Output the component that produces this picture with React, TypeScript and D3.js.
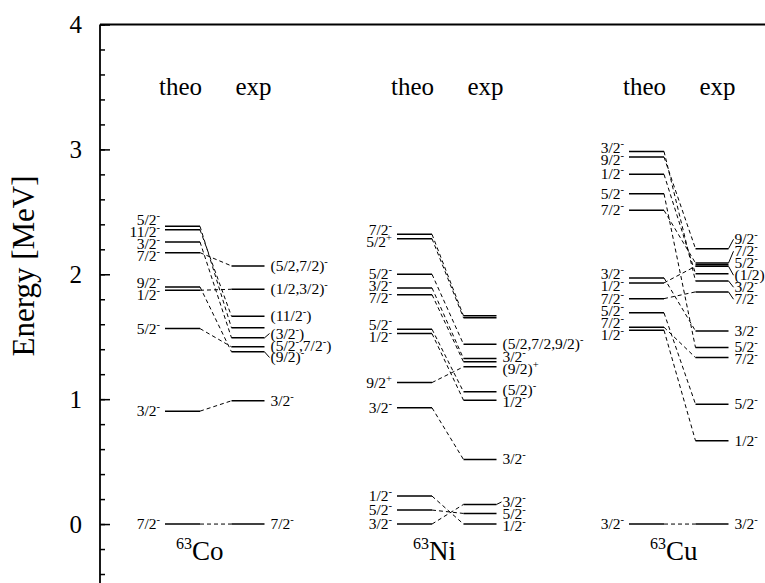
import * as d3 from "d3";
import { useEffect, useRef } from "react";

const W = 765;
const H = 583;
const FONT = "Liberation Serif, DejaVu Serif, serif";

// energies in MeV with J^pi labels ("^" marks the next char as superscript)
const nuclei = ["Co", "Ni", "Cu"];

const coTheo: [number, string][] = [
  [0, "7/2^-"], [0.904, "3/2^-"], [1.565, "5/2^-"], [1.872, "1/2^-"], [1.899, "9/2^-"],
  [2.173, "7/2^-"], [2.259, "3/2^-"], [2.357, "11/2^-"], [2.384, "5/2^-"],
];
const coExp: [number, string][] = [
  [0, "7/2^-"], [0.987, "3/2^-"], [1.379, "(9/2)^-"], [1.419, "(5/2^-,7/2^-)"], [1.491, "(3/2^-)"],
  [1.571, ""], [1.664, "(11/2^-)"], [1.88, "(1/2,3/2)^-"], [2.067, "(5/2,7/2)^-"],
];
const coLinks: [number, number][] = [[0, 0], [1, 1], [2, 3], [3, 7], [4, 2], [5, 8], [6, 4], [7, 6], [8, 5]];

const niTheo: [number, string][] = [
  [0, "3/2^-"], [0.112, "5/2^-"], [0.224, "1/2^-"], [0.931, "3/2^-"], [1.133, "9/2^+"], [1.525, "1/2^-"],
  [1.56, "5/2^-"], [1.837, "7/2^-"], [1.891, "3/2^-"], [2.0, "5/2^-"], [2.285, "5/2^+"], [2.32, "7/2^-"],
];
const niExp: [number, string][] = [
  [0, "1/2^-"], [0.085, "5/2^-"], [0.157, "3/2^-"], [0.517, "3/2^-"], [0.992, "1/2^-"], [1.059, "(5/2)^-"],
  [1.259, "(9/2)^+"], [1.299, ""], [1.325, "3/2^-"], [1.44, "(5/2,7/2,9/2)^-"], [1.651, ""], [1.667, ""],
];
const niLinks: [number, number][] = [
  [0, 2], [1, 1], [2, 0], [3, 3], [4, 6], [5, 4], [6, 5], [7, 7], [8, 8], [9, 9], [10, 10], [11, 11],
];

const cuTheo: [number, string][] = [
  [0, "3/2^-"], [1.552, "1/2^-"], [1.576, "7/2^-"], [1.691, "5/2^-"], [1.805, "7/2^-"], [1.931, "1/2^-"],
  [1.971, "3/2^-"], [2.512, "7/2^-"], [2.645, "5/2^-"], [2.8, "1/2^-"], [2.939, "9/2^-"], [2.984, "3/2^-"],
];
const cuExp: [number, string][] = [
  [0, "3/2^-"], [0.667, "1/2^-"], [0.96, "5/2^-"], [1.333, "7/2^-"], [1.413, "5/2^-"], [1.546, "3/2^-"],
  [1.859, "7/2^-"], [1.947, "3/2^-"], [2.005, ""], [2.064, "(1/2)"], [2.077, "5/2^-"], [2.09, "7/2^-"],
  [2.205, "9/2^-"],
];
const cuLinks: [number, number][] = [
  [0, 0], [1, 1], [2, 3], [3, 2], [4, 6], [5, 9], [6, 5], [7, 11], [8, 4], [9, 8], [10, 12], [11, 7],
];

const sets = [
  { theo: coTheo, exp: coExp, links: coLinks },
  { theo: niTheo, exp: niExp, links: niLinks },
  { theo: cuTheo, exp: cuExp, links: cuLinks },
];

const majorTicks = [0, 1, 2, 3, 4];
const minorTicks = d3.range(-0.4, 4.01, 0.2).map(v => +v.toFixed(1));

const y = d3.scaleLinear().domain([-0.48, 4]).range([584, 24.5]);
const xTheo = d3.scaleLinear().domain([0, 2]).range([165, 629]);
const theoLen = 35;
const expGap = 66.5;
const expLen = 33;
const labelGap = 12;
const LBL = 15.5;

// push overlapping labels apart around their cluster centre
function spread(ys: number[], gap: number) {
  const out = ys.slice();
  for (let it = 0; it < 300; it++) {
    let moved = false;
    for (let i = 1; i < out.length; i++) {
      const d = out[i] - out[i - 1];
      if (d < gap - 0.01) {
        const s = (gap - d) / 2;
        out[i - 1] -= s;
        out[i] += s;
        moved = true;
      }
    }
    if (!moved) break;
  }
  return out;
}

function layoutLabels(levels: [number, string][]) {
  const items = levels
    .map(([e, s]) => ({ yl: y(e), s }))
    .filter(d => d.s !== "")
    .sort((a, b) => a.yl - b.yl);
  const ys = spread(items.map(d => d.yl), labelGap);
  return items.map((d, i) => ({ ...d, yt: ys[i] }));
}

function JLabel({ x, yy, s, anchor }: { x: number; yy: number; s: string; anchor: string }) {
  const segs: { t: string; sup: boolean }[] = [];
  for (let i = 0; i < s.length; i++) {
    if (s[i] === "^") {
      segs.push({ t: s[i + 1], sup: true });
      i++;
    } else if (segs.length && !segs[segs.length - 1].sup) {
      segs[segs.length - 1].t += s[i];
    } else {
      segs.push({ t: s[i], sup: false });
    }
  }
  let up = false;
  return (
    <text x={x} y={yy + 5} textAnchor={anchor} fontSize={LBL} fontFamily={FONT}>
      {segs.map((g, i) => {
        const dy = g.sup && !up ? -6 : !g.sup && up ? 6 : 0;
        up = g.sup;
        return (
          <tspan key={i} dy={dy || undefined} fontSize={g.sup ? 10.5 : LBL}>
            {g.t}
          </tspan>
        );
      })}
    </text>
  );
}

const isoOffset = [11, 16, 21];

export default function App() {
  const axisRef = useRef<SVGGElement>(null);

  useEffect(() => {
    const g = d3.select(axisRef.current);
    g.selectAll("*").remove();
    g.append("g")
      .call(d3.axisLeft(y).tickValues(minorTicks).tickSize(-5).tickSizeOuter(0).tickFormat(() => ""))
      .call(s => s.select(".domain").remove())
      .selectAll("line").attr("stroke", "#000").attr("stroke-width", 1.5);
    g.append("g")
      .call(d3.axisLeft(y).tickValues(majorTicks).tickSize(-10).tickPadding(18).tickSizeOuter(0).tickFormat(d3.format("d")))
      .call(s => s.select(".domain").remove())
      .call(s => s.selectAll("line").attr("stroke", "#000").attr("stroke-width", 1.5))
      .call(s => s.selectAll("text").attr("font-size", 25).attr("font-family", FONT).attr("fill", "#000"));
  }, []);

  return (
    <svg width={W} height={H} style={{ position: "absolute", left: 0, top: 0, background: "#fff" }}>
      <g ref={axisRef} transform="translate(100,0)" />
      <line x1={100} x2={100} y1={y(4)} y2={H} stroke="#000" strokeWidth={1.8} />
      <line x1={100} x2={W} y1={y(4)} y2={y(4)} stroke="#000" strokeWidth={1.8} />
      <text
        transform={`translate(34,266) rotate(-90)`}
        textAnchor="middle"
        fontSize={31}
        fontFamily={FONT}
      >
        Energy [MeV]
      </text>

      {sets.map((set, n) => {
        const t0 = xTheo(n);
        const t1 = t0 + theoLen;
        const e0 = t0 + expGap;
        const e1 = e0 + expLen;
        const theoLabels = layoutLabels(set.theo);
        const expLabels = layoutLabels(set.exp);
        return (
          <g key={nuclei[n]}>
            <text x={t0 - 6} y={95} fontSize={25} fontFamily={FONT}>theo</text>
            <text x={e0 + 4} y={95} fontSize={25} fontFamily={FONT}>exp</text>

            {set.theo.map(([e], i) => (
              <line key={"t" + i} x1={t0} x2={t1} y1={y(e)} y2={y(e)} stroke="#000" strokeWidth={1.5} />
            ))}
            {set.exp.map(([e], i) => (
              <line key={"e" + i} x1={e0} x2={e1} y1={y(e)} y2={y(e)} stroke="#000" strokeWidth={1.5} />
            ))}
            {set.links.map(([a, b], i) => (
              <line
                key={"l" + i}
                x1={t1}
                x2={e0}
                y1={y(set.theo[a][0])}
                y2={y(set.exp[b][0])}
                stroke="#000"
                strokeWidth={1}
                strokeDasharray="4 3"
              />
            ))}

            {theoLabels.map((d, i) => (
              <JLabel key={"tl" + i} x={t0 - 5} yy={d.yt} s={d.s} anchor="end" />
            ))}
            {expLabels.map((d, i) => (
              <g key={"el" + i}>
                {Math.abs(d.yt - d.yl) > 2 && (
                  <line x1={e1} x2={e1 + 5} y1={d.yl} y2={d.yt} stroke="#000" strokeWidth={1} />
                )}
                <JLabel x={e1 + 6} yy={d.yt} s={d.s} anchor="start" />
              </g>
            ))}

            <text x={t0 + isoOffset[n]} y={560} fontSize={27} fontFamily={FONT}>
              <tspan fontSize={16} dy={-11}>63</tspan>
              <tspan dy={11}>{nuclei[n]}</tspan>
            </text>
          </g>
        );
      })}
    </svg>
  );
}
